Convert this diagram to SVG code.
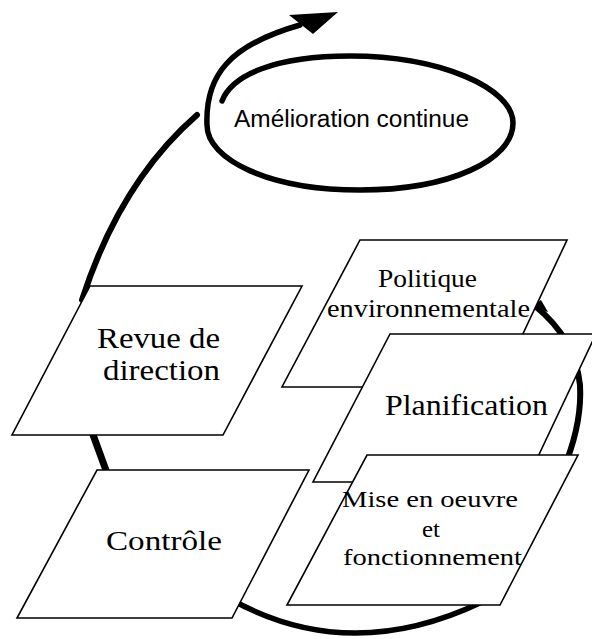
<svg xmlns="http://www.w3.org/2000/svg" width="592" height="639" viewBox="0 0 592 639">
<style>
.box{fill:#fff;stroke:#000;stroke-width:1.6;stroke-linejoin:miter}
.lbl{font-family:"Liberation Serif","Times New Roman",serif;fill:#000;text-anchor:start}
.sans{font-family:"Liberation Sans",Arial,sans-serif;fill:#000}
.brush{fill:none;stroke:#000;stroke-linecap:round}
</style>
<rect width="592" height="639" fill="#fff"/>
<g id="connectors">
  <path class="brush" d="M222,101 C232,75 275,56 350,56 C440,56 513,88 513,123 C513,160 450,190 360,190 C270,190 207,160 207,125 C205,75 230,45 300,25" stroke-width="5.5"/>
  <polygon points="289,15 338,12 313,34" fill="#000"/>
  <path class="brush" d="M82,300 Q120,182 197,115" stroke-width="6"/>
  <path class="brush" d="M92,432 L107,473" stroke-width="7"/>
  <path class="brush" d="M535,306 Q575,338 580,385 Q582,420 567,460" stroke-width="6"/>
  <polygon points="531,307 541,300 548,312" fill="#000"/>
  <path class="brush" d="M232,600 Q350,665 482,602" stroke-width="5.5"/>
</g>
<g id="politique">
  <polygon class="box" points="360,240 567,240 498,387 282,387"/>
  <text class="lbl" x="378" y="287" font-size="26" textLength="99" lengthAdjust="spacingAndGlyphs">Politique</text>
  <text class="lbl" x="327" y="317" font-size="26" textLength="203" lengthAdjust="spacingAndGlyphs">environnementale</text>
</g>
<g id="planification">
  <polygon class="box" points="390,334 596,334 526,482 313,482"/>
  <text class="lbl" x="385" y="415" font-size="30" textLength="163" lengthAdjust="spacingAndGlyphs">Planification</text>
</g>
<g id="mise">
  <polygon class="box" points="367,455 578,455 500,605 287,605"/>
  <text class="lbl" x="342" y="507" font-size="24" textLength="176" lengthAdjust="spacingAndGlyphs">Mise en oeuvre</text>
  <text class="lbl" x="422" y="537" font-size="24" textLength="18" lengthAdjust="spacingAndGlyphs">et</text>
  <text class="lbl" x="343" y="565" font-size="24" textLength="179" lengthAdjust="spacingAndGlyphs">fonctionnement</text>
</g>
<g id="revue">
  <polygon class="box" points="90,286 302,286 223,435 12,435"/>
  <text class="lbl" x="97" y="348" font-size="29" textLength="123" lengthAdjust="spacingAndGlyphs">Revue de</text>
  <text class="lbl" x="103" y="380" font-size="29" textLength="117" lengthAdjust="spacingAndGlyphs">direction</text>
</g>
<g id="controle">
  <polygon class="box" points="97,470 309,470 232,618 17,618"/>
  <text class="lbl" x="106" y="550" font-size="27" textLength="116" lengthAdjust="spacingAndGlyphs">Contrôle</text>
</g>
<g id="amelioration">
  <text class="sans" x="234" y="127" font-size="23" textLength="235" lengthAdjust="spacingAndGlyphs">Amélioration continue</text>
</g>
</svg>
